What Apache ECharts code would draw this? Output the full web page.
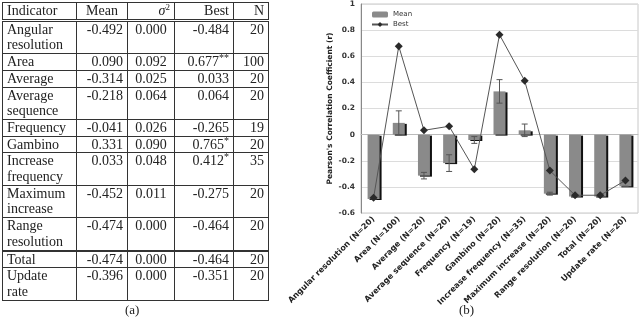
<!DOCTYPE html>
<html>
<head>
<meta charset="utf-8">
<title>Indicators</title>
<style>
  html, body { margin: 0; padding: 0; background: #fff; }
  #wrap { position: relative; width: 640px; height: 321px; overflow: hidden; }
  #chart { position: absolute; left: 0; top: 0; width: 640px; height: 321px; }
  #tbl { position: absolute; left: 2px; top: 2px; z-index: 2;
         border-collapse: collapse; table-layout: fixed;
         font-family: "Liberation Serif", "DejaVu Serif", serif; font-size: 14px; color: #222; }
  #tbl td, #tbl th { border: 1px solid #333; padding: 0 4px; line-height: 15.7px; height: 15.7px;
         vertical-align: top; font-weight: normal; }
  #tbl th { text-align: right; }
  #tbl th.c0 { text-align: left; }
  #tbl th.c1 { text-align: center; }
  #tbl td { text-align: right; }
  #tbl td.c0 { text-align: left; }
  #tbl td.c2 { text-align: center; }
  #tbl tr.head th { border-bottom: 3px double #333; }
  #tbl tr.sep td { border-top: 2px solid #333; }
  .sup { position: relative; top: -5px; font-size: 10px; line-height: 0; }
  .cap { position: absolute; top: 302px; z-index: 2;
         font-family: "Liberation Serif", "DejaVu Serif", serif; font-size: 13px; color: #222; }
</style>
</head>
<body>
<div id="wrap">
  <div id="chart"></div>
  <table id="tbl"></table>
  <div class="cap" style="left:125px;">(a)</div>
  <div class="cap" style="left:459px;">(b)</div>
</div>

<script src="https://cdn.jsdelivr.net/npm/echarts@6/dist/echarts.min.js"></script>
<script>
// data
var indicators = ['Angular resolution', 'Area', 'Average', 'Average sequence', 'Frequency',
                  'Gambino', 'Increase frequency', 'Maximum increase', 'Range resolution',
                  'Total', 'Update rate'];
var meanVals = [-0.492, 0.090, -0.314, -0.218, -0.041, 0.331, 0.033, -0.452, -0.474, -0.474, -0.396];
var varVals  = [0.000, 0.092, 0.025, 0.064, 0.026, 0.090, 0.048, 0.011, 0.000, 0.000, 0.000];
var bestVals = [-0.484, 0.677, 0.033, 0.064, -0.265, 0.765, 0.412, -0.275, -0.464, -0.464, -0.351];
var bestMarks = ['', '**', '', '', '', '*', '*', '', '', '', ''];
var nVals    = [20, 100, 20, 20, 19, 20, 35, 20, 20, 20, 20];
var yTicks   = { min: -0.6, max: 1, step: 0.2 };

// table (a)
(function(){
    var colW = [74, 51, 47, 59, 35];
    var html = '<colgroup>';
    for (var c = 0; c < colW.length; c++) html += '<col style="width:' + colW[c] + 'px">';
    html += '</colgroup>';
    html += '<tr class="head"><th class="c0">Indicator</th><th class="c1">Mean</th>' +
            '<th class="c2"><i>&sigma;</i><span class="sup" style="font-size:9px">2</span></th><th>Best</th><th>N</th></tr>';
    for (var i = 0; i < indicators.length; i++) {
        var cls = indicators[i] === 'Total' ? ' class="sep"' : '';
        html += '<tr' + cls + '>' +
            '<td class="c0">' + indicators[i].replace(' ', '<br>') + '</td>' +
            '<td class="c1">' + meanVals[i].toFixed(3) + '</td>' +
            '<td class="c2">' + varVals[i].toFixed(3) + '</td>' +
            '<td class="c3">' + bestVals[i].toFixed(3) + (bestMarks[i] ? '<span class="sup">' + bestMarks[i] + '</span>' : '') + '</td>' +
            '<td class="c4">' + nVals[i] + '</td></tr>';
    }
    document.getElementById('tbl').innerHTML = html;
})();

// chart (b)
(function(){
    var app = echarts.init(document.getElementById('chart'));
    var categories = indicators.map(function(n, i){ return n + ' (N=' + nVals[i] + ')'; });
    var errData = meanVals.map(function(m, i){ return [i, m - varVals[i], m + varVals[i]]; });
    var font = 'DejaVu Sans';

    var option = {
        animation: false,
        grid: { left: 361, right: 2, top: 3, bottom: 108, show: true, borderColor: '#c8c8c8', borderWidth: 1 },
        legend: {
            orient: 'vertical', left: 366, top: 6, itemWidth: 16, itemHeight: 6, itemGap: 3,
            textStyle: { fontFamily: font, fontSize: 7, color: '#333' },
            data: ['Mean', 'Best']
        },
        xAxis: [
            {
                type: 'category', data: categories,
                axisLine: { show: false }, axisTick: { show: false },
                axisLabel: { interval: 0, rotate: 45, margin: 5, fontFamily: font, fontSize: 8,
                             fontWeight: 'bold', color: '#222' }
            },
            {
                type: 'category', data: categories, position: 'bottom',
                axisLine: { onZero: true, onZeroAxisIndex: 0, lineStyle: { color: '#bbb' } },
                axisTick: { inside: true, length: 3, lineStyle: { color: '#bbb' } },
                axisLabel: { show: false }, splitLine: { show: false }
            }
        ],
        yAxis: {
            type: 'value', min: yTicks.min, max: yTicks.max, interval: yTicks.step,
            name: "Pearson's Correlation Coefficient (r)", nameLocation: 'middle', nameGap: 27,
            nameTextStyle: { fontFamily: font, fontSize: 7.5, fontWeight: 'bold', color: '#222' },
            axisLine: { show: true, lineStyle: { color: '#888' } },
            axisTick: { show: false },
            axisLabel: { fontFamily: font, fontSize: 7.5, fontWeight: 'bold', color: '#333', margin: 6 },
            splitLine: { lineStyle: { color: '#dcdcdc' } }
        },
        series: [
            {
                name: 'Mean', type: 'bar', data: meanVals, barWidth: 12, xAxisIndex: 0,
                itemStyle: { color: '#8a8a8a', shadowColor: '#111', shadowOffsetX: 2, shadowOffsetY: 1, shadowBlur: 0 },
                z: 2
            },
            {
                name: 'err', type: 'custom', data: errData, xAxisIndex: 0, z: 3,
                renderItem: function(params, api){
                    var x = api.value(0);
                    var lo = api.coord([x, api.value(1)]);
                    var hi = api.coord([x, api.value(2)]);
                    var w = 3, st = { stroke: '#555', lineWidth: 1 };
                    return { type: 'group', children: [
                        { type: 'line', shape: { x1: hi[0], y1: hi[1], x2: lo[0], y2: lo[1] }, style: st },
                        { type: 'line', shape: { x1: hi[0] - w, y1: hi[1], x2: hi[0] + w, y2: hi[1] }, style: st },
                        { type: 'line', shape: { x1: lo[0] - w, y1: lo[1], x2: lo[0] + w, y2: lo[1] }, style: st }
                    ]};
                }
            },
            {
                name: 'Best', type: 'line', data: bestVals, xAxisIndex: 0, z: 4,
                symbol: 'diamond', symbolSize: 8,
                lineStyle: { color: '#555', width: 1 },
                itemStyle: { color: '#2a2a2a' }
            }
        ]
    };
    app.setOption(option);
})();
</script>
</body>
</html>
